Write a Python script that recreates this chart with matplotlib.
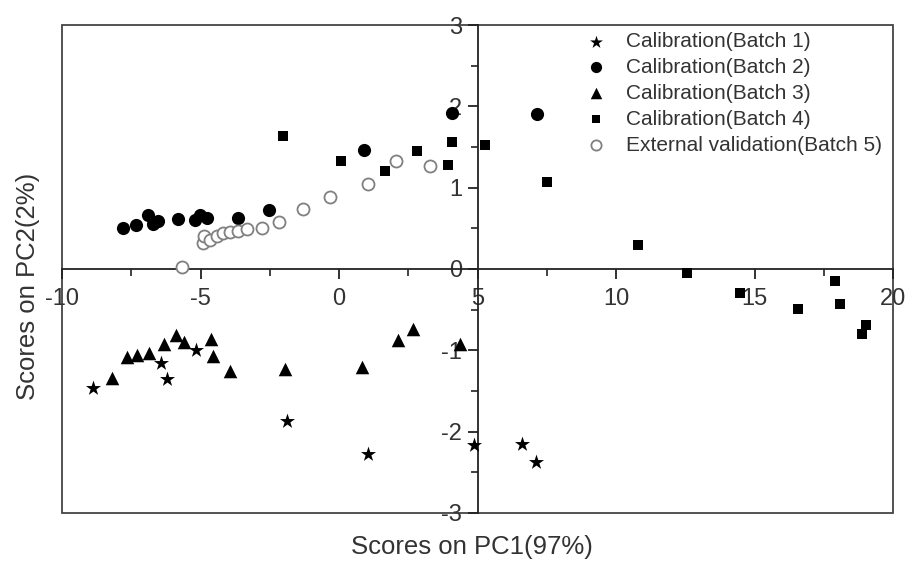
import matplotlib
matplotlib.use("Agg")
import matplotlib.pyplot as plt
from matplotlib.patches import Rectangle

plt.rcParams['font.family'] = ['Liberation Sans', 'DejaVu Sans']
plt.rcParams['axes.unicode_minus'] = False

# Batch 1 (stars)
b1_x = [-8.90, -6.43, -6.20, -5.18, -1.87, 1.06, 4.86, 6.60, 7.11]
b1_y = [-1.46, -1.15, -1.35, -1.00, -1.87, -2.27, -2.16, -2.15, -2.37]
# Batch 2 (filled circles)
b2_x = [-7.81, -7.33, -6.91, -6.70, -6.53, -5.82, -5.20, -5.02, -4.78, -3.64, -2.52, 0.91, 4.07, 7.16]
b2_y = [0.51, 0.54, 0.67, 0.55, 0.59, 0.62, 0.60, 0.67, 0.63, 0.63, 0.73, 1.46, 1.92, 1.91]
# Batch 3 (triangles)
b3_x = [-8.21, -7.66, -7.28, -6.85, -6.31, -5.88, -5.58, -4.63, -4.54, -3.94, -1.95, 0.82, 2.14, 2.68, 4.37]
b3_y = [-1.34, -1.08, -1.06, -1.03, -0.92, -0.81, -0.90, -0.86, -1.07, -1.26, -1.23, -1.21, -0.87, -0.74, -0.92]
# Batch 4 (squares)
b4_x = [-2.04, 0.06, 1.66, 2.83, 4.07, 3.95, 5.27, 7.50, 10.78, 12.57, 14.48, 16.58, 17.91, 18.09, 18.87, 19.03]
b4_y = [1.63, 1.33, 1.21, 1.45, 1.56, 1.28, 1.53, 1.07, 0.29, -0.05, -0.30, -0.49, -0.15, -0.43, -0.80, -0.69]
# Batch 5 (open circles, external validation)
b5_x = [-5.68, -4.90, -4.87, -4.66, -4.42, -4.18, -3.94, -3.66, -3.33, -2.77, -2.17, -1.29, -0.32, 1.04, 2.06, 3.28]
b5_y = [0.02, 0.32, 0.40, 0.36, 0.40, 0.44, 0.45, 0.47, 0.49, 0.51, 0.58, 0.74, 0.88, 1.04, 1.33, 1.27]

labels = ["Calibration(Batch 1)", "Calibration(Batch 2)", "Calibration(Batch 3)",
          "Calibration(Batch 4)", "External validation(Batch 5)"]

fig = plt.figure(figsize=(9.07, 5.61), dpi=100)
ax = fig.add_axes([0.0684, 0.0856, 0.9162, 0.8698])

ax.scatter(b1_x, b1_y, marker='*', s=130, c='black', linewidths=0, label=labels[0], zorder=3)
ax.scatter(b2_x, b2_y, marker='o', s=90, c='black', linewidths=0, label=labels[1], zorder=3)
ax.scatter(b3_x, b3_y, marker='^', s=95, c='black', linewidths=0, label=labels[2], zorder=3)
ax.scatter(b4_x, b4_y, marker='s', s=58, c='black', linewidths=0, label=labels[3], zorder=3)
ax.scatter(b5_x, b5_y, marker='o', s=75, facecolors='white', edgecolors='#808080',
           linewidths=1.3, label=labels[4], zorder=3)

ax.set_xlim(-10, 20)
ax.set_ylim(-3, 3)

for s in ['top', 'right']:
    ax.spines[s].set_visible(False)
ax.spines['left'].set_position(('data', 5))
ax.spines['bottom'].set_position(('data', 0))
ax.spines['left'].set_linewidth(1.3)
ax.spines['bottom'].set_linewidth(1.3)
ax.spines['left'].set_color('#222222')
ax.spines['bottom'].set_color('#222222')
ax.add_patch(Rectangle((0, 0), 1, 1, transform=ax.transAxes, fill=False,
                       edgecolor='#444444', linewidth=1.3, clip_on=False, zorder=1))

ax.set_xticks([-10, -5, 0, 5, 10, 15, 20])
ax.set_xticks([-7.5, -2.5, 2.5, 7.5, 12.5, 17.5], minor=True)
ax.set_yticks([-3, -2, -1, 0, 1, 2, 3])
ax.set_yticks([-2.5, -1.5, -0.5, 0.5, 1.5, 2.5], minor=True)
ax.tick_params(axis='both', which='major', direction='out', length=7, width=1.3,
               labelsize=17, color='#222222', labelcolor='#333333')
ax.tick_params(axis='both', which='minor', direction='out', length=5, width=1.2, color='#222222')
ax.tick_params(axis='x', which='major', pad=7)
ax.tick_params(axis='y', which='major', pad=4)

fig.text(0.52, 0.025, "Scores on PC1(97%)", ha='center', va='center', fontsize=18.5, color='#333333')
fig.text(0.031, 0.49, "Scores on PC2(2%)", ha='center', va='center', rotation=90,
         fontsize=18.5, color='#333333')

leg = ax.legend(loc='upper left', bbox_to_anchor=((586 - 62) / 831, 1 - 7 / 488),
                frameon=False, fontsize=15, markerscale=0.85, handlelength=1.0,
                handletextpad=0.9, labelspacing=0.33, borderpad=0, borderaxespad=0)
for t in leg.get_texts():
    t.set_color('#333333')

fig.savefig("out.png", dpi=100)
